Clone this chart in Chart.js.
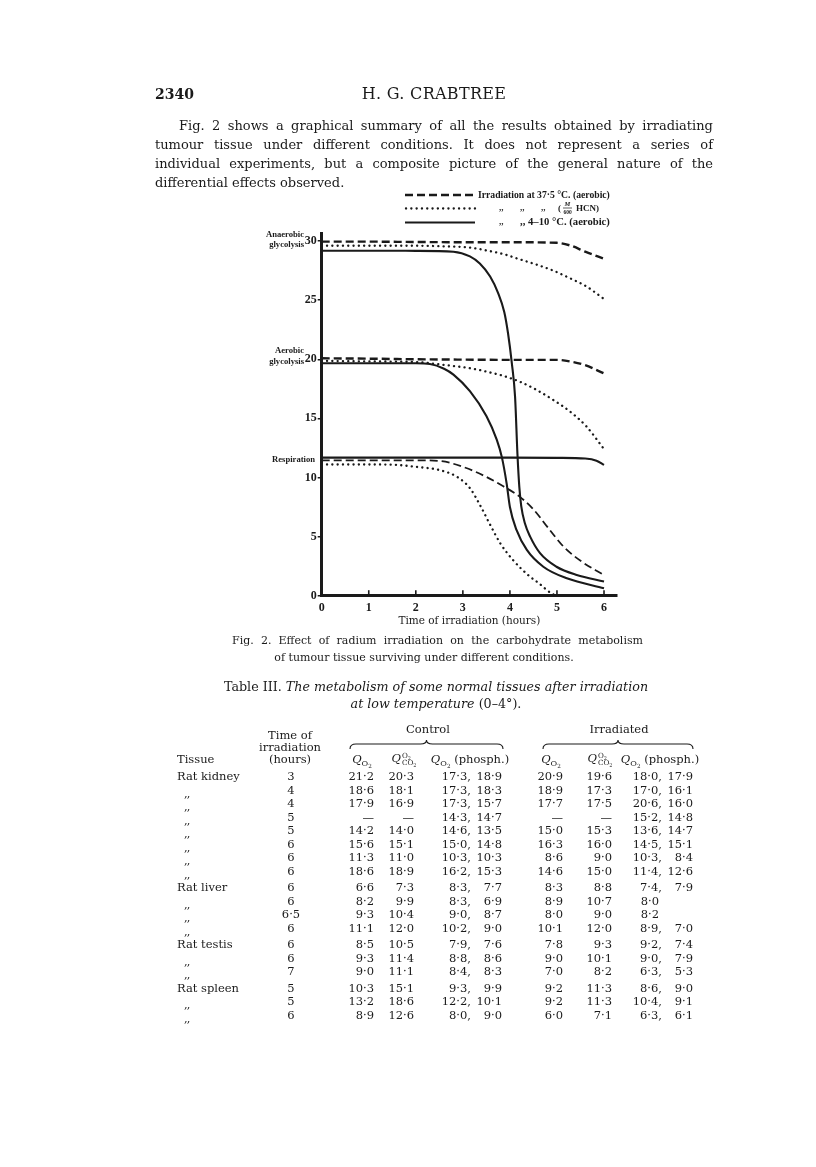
<!DOCTYPE html>
<html>
<head>
<meta charset="utf-8">
<script src="https://cdn.jsdelivr.net/npm/chart.js@4.4.1/dist/chart.umd.min.js"></script>
<style>
  html, body { margin: 0; padding: 0; background: #fff; }
  body { width: 816px; height: 1167px; position: relative; overflow: hidden; color: #1a1a1a;
         font-family: "DejaVu Serif", "Liberation Serif", serif; }
  .t { position: absolute; white-space: nowrap; line-height: 1; }
  #fig { position: absolute; left: 200px; top: 180px; }
  .tbl { font-size: 11.5px; }
  sub, sup { line-height: 0; font-size: 70%; }
  .stack { display: inline-flex; flex-direction: column; vertical-align: middle; font-size: 62%; line-height: 1.05; margin-left: 1px; }
</style>
</head>
<body>
<canvas id="fig" width="440" height="460"></canvas>
<svg id="braces" width="816" height="1167" style="position:absolute;left:0;top:0;pointer-events:none"></svg>
<script>
const INK = "#1a1a1a";

// ---------------------------------------------------------------------------
// Fig. 2 values (time in hours, metabolic quotient)
// ---------------------------------------------------------------------------
const X_TICKS = [0, 1, 2, 3, 4, 5, 6];
const Y_TICKS = [0, 5, 10, 15, 20, 25, 30];

const ANA_37_X = [0, 1, 2, 3, 4, 5, 5.3, 5.6, 6];
const ANA_37_Y = [29.95, 29.95, 29.92, 29.9, 29.9, 29.85, 29.6, 29.1, 28.5];
const ANA_HCN_X = [0, 1, 2, 2.6, 3.15, 3.51, 3.86, 4.21, 4.57, 4.92, 5.28, 5.63, 6];
const ANA_HCN_Y = [29.6, 29.6, 29.6, 29.55, 29.45, 29.2, 28.9, 28.45, 28.0, 27.5, 26.85, 26.15, 25.1];
const ANA_COLD_X = [0, 1, 2, 2.8, 3.15, 3.36, 3.58, 3.75, 3.88, 3.96, 4.04, 4.11, 4.16, 4.2, 4.24, 4.32, 4.43, 4.64, 4.99, 5.42, 6];
const ANA_COLD_Y = [29.18, 29.18, 29.17, 29.1, 28.7, 28.1, 27.0, 25.6, 24.0, 22.2, 19.7, 16.8, 12.0, 9.2, 7.6, 6.1, 5.0, 3.6, 2.45, 1.75, 1.2];

const AER_37_X = [0, 1, 2, 3, 4, 5, 5.3, 5.6, 6];
const AER_37_Y = [20.08, 20.05, 20.0, 19.97, 19.95, 19.95, 19.8, 19.5, 18.8];
const AER_HCN_X = [0, 1, 2.09, 2.44, 2.8, 3.15, 3.51, 3.86, 4.21, 4.57, 4.92, 5.28, 5.63, 6];
const AER_HCN_Y = [19.86, 19.82, 19.75, 19.6, 19.43, 19.24, 18.95, 18.59, 18.1, 17.4, 16.56, 15.57, 14.3, 12.4];
const AER_COLD_X = [0, 1, 2, 2.3, 2.6, 2.8, 3.15, 3.5, 3.72, 3.83, 3.93, 4.0, 4.14, 4.36, 4.71, 5.21, 6];
const AER_COLD_Y = [19.66, 19.66, 19.66, 19.6, 19.2, 18.7, 17.3, 15.2, 13.2, 11.7, 9.5, 7.5, 5.56, 3.87, 2.45, 1.47, 0.63];

const RESP_37_X = [0, 1, 2, 2.5, 3.0, 3.5, 3.86, 4.2, 4.5, 4.82, 5.14, 5.52, 6];
const RESP_37_Y = [11.45, 11.45, 11.45, 11.4, 10.9, 10.05, 9.25, 8.4, 7.3, 5.7, 4.15, 2.9, 1.75];
const RESP_HCN_X = [0, 1, 1.6, 2.0, 2.5, 2.87, 3.15, 3.36, 3.58, 3.8, 4.07, 4.4, 4.6, 4.88, 5.0];
const RESP_HCN_Y = [11.1, 11.1, 11.06, 10.9, 10.63, 10.07, 9.1, 7.7, 6.0, 4.4, 3.0, 1.7, 1.1, 0.2, 0];
const RESP_COLD_X = [0, 1, 2, 3, 4, 5, 5.6, 5.84, 6];
const RESP_COLD_Y = [11.68, 11.68, 11.68, 11.68, 11.68, 11.66, 11.6, 11.42, 11.06];

// ---------------------------------------------------------------------------
// Table III values
// ---------------------------------------------------------------------------
const TISSUE = ["Rat kidney", ",,", ",,", ",,", ",,", ",,", ",,", ",,",
                "Rat liver", ",,", ",,", ",,",
                "Rat testis", ",,", ",,",
                "Rat spleen", ",,", ",,"];
const GROUP = [0, 0, 0, 0, 0, 0, 0, 0, 1, 1, 1, 1, 2, 2, 2, 3, 3, 3];
const HOURS = ["3", "4", "4", "5", "5", "6", "6", "6", "6", "6", "6·5", "6", "6", "6", "7", "5", "5", "6"];
const C_QO2 = ["21·2", "18·6", "17·9", "—", "14·2", "15·6", "11·3", "18·6", "6·6", "8·2", "9·3", "11·1", "8·5", "9·3", "9·0", "10·3", "13·2", "8·9"];
const C_QCO2 = ["20·3", "18·1", "16·9", "—", "14·0", "15·1", "11·0", "18·9", "7·3", "9·9", "10·4", "12·0", "10·5", "11·4", "11·1", "15·1", "18·6", "12·6"];
const C_PHOS = ["17·3, 18·9", "17·3, 18·3", "17·3, 15·7", "14·3, 14·7", "14·6, 13·5", "15·0, 14·8", "10·3, 10·3", "16·2, 15·3",
                "8·3, 7·7", "8·3, 6·9", "9·0, 8·7", "10·2, 9·0", "7·9, 7·6", "8·8, 8·6", "8·4, 8·3", "9·3, 9·9", "12·2, 10·1", "8·0, 9·0"];
const I_QO2 = ["20·9", "18·9", "17·7", "—", "15·0", "16·3", "8·6", "14·6", "8·3", "8·9", "8·0", "10·1", "7·8", "9·0", "7·0", "9·2", "9·2", "6·0"];
const I_QCO2 = ["19·6", "17·3", "17·5", "—", "15·3", "16·0", "9·0", "15·0", "8·8", "10·7", "9·0", "12·0", "9·3", "10·1", "8·2", "11·3", "11·3", "7·1"];
const I_PHOS = ["18·0, 17·9", "17·0, 16·1", "20·6, 16·0", "15·2, 14·8", "13·6, 14·7", "14·5, 15·1", "10·3, 8·4", "11·4, 12·6",
                "7·4, 7·9", "8·0", "8·2", "8·9, 7·0", "9·2, 7·4", "9·0, 7·9", "6·3, 5·3", "8·6, 9·0", "10·4, 9·1", "6·3, 6·1"];

// ---------------------------------------------------------------------------
// page text
// ---------------------------------------------------------------------------
function place(html, x, y, opts = {}) {
  const el = document.createElement("div");
  el.className = "t" + (opts.cls ? " " + opts.cls : "");
  el.innerHTML = html;
  const tx = opts.align === "center" ? "-50%" : opts.align === "right" ? "-100%" : "0";
  el.style.left = x + "px";
  el.style.top = y + "px";
  el.style.transform = `translate(${tx}, -50%)`;
  if (opts.size) el.style.fontSize = opts.size + "px";
  if (opts.weight) el.style.fontWeight = opts.weight;
  if (opts.style) el.style.cssText += opts.style;
  document.body.appendChild(el);
  return el;
}

// one line of text stretched (or squeezed) to an exact width
function fitLine(html, x, y, width, size) {
  const el = place(html, x, y, { size });
  let w = el.getBoundingClientRect().width;
  if (w > width) {
    el.style.fontSize = (size * width / w).toFixed(2) + "px";
    w = el.getBoundingClientRect().width;
  }
  const spaces = (el.textContent.match(/ /g) || []).length;
  if (spaces && w < width) el.style.wordSpacing = ((width - w) / spaces).toFixed(2) + "px";
  return el;
}

place("2340", 155, 94, { size: 14, weight: "bold" });
place("H. G. CRABTREE", 434, 94, { size: 16, align: "center", style: "letter-spacing:0.3px" });

fitLine("Fig. 2 shows a graphical summary of all the results obtained by irradiating", 179, 125, 534, 13);
fitLine("tumour tissue under different conditions. It does not represent a series of", 155, 144, 558, 13);
fitLine("individual experiments, but a composite picture of the general nature of the", 155, 163, 558, 13);
place("differential effects observed.", 155, 182, { size: 13 });

fitLine("Fig. 2. Effect of radium irradiation on the carbohydrate metabolism", 232, 640, 411, 11);
place("of tumour tissue surviving under different conditions.", 424, 657, { size: 11, align: "center" });

place("Table III. <i>The metabolism of some normal tissues after irradiation</i>", 436, 687, { size: 12.7, align: "center" });
place("<i>at low temperature</i> (0–4°).", 436, 704, { size: 12.7, align: "center" });

// table header
const TH = 11.5;
place("Control", 428, 730, { size: TH, align: "center" });
place("Irradiated", 619, 730, { size: TH, align: "center" });
place("Time of", 290, 736, { size: TH, align: "center" });
place("irradiation", 290, 748, { size: TH, align: "center" });
place("(hours)", 290, 760, { size: TH, align: "center" });
place("Tissue", 177, 760, { size: TH });

const Q_O2 = '<i>Q</i><sub>O<sub>2</sub></sub>';
const Q_RATIO = '<i>Q</i><span class="stack"><span>O<sub>2</sub></span><span>CO<sub>2</sub></span></span>';
place(Q_O2, 362, 760, { size: TH, align: "center" });
place(Q_RATIO, 404, 759, { size: TH, align: "center" });
place(Q_O2 + " (phosph.)", 470, 760, { size: TH, align: "center" });
place(Q_O2, 551, 760, { size: TH, align: "center" });
place(Q_RATIO, 600, 759, { size: TH, align: "center" });
place(Q_O2 + " (phosph.)", 660, 760, { size: TH, align: "center" });

// curly braces over the Control / Irradiated columns
function brace(x1, x2, y) {
  const m = (x1 + x2) / 2;
  return `<path d="M${x1},${y + 5} Q${x1},${y} ${x1 + 6},${y} L${m - 6},${y} Q${m},${y} ${m},${y - 4} Q${m},${y} ${m + 6},${y} L${x2 - 6},${y} Q${x2},${y} ${x2},${y + 5}" fill="none" stroke="${INK}" stroke-width="1.1"/>`;
}
document.getElementById("braces").innerHTML = brace(350, 503, 744) + brace(543, 693, 744);

// table body
function pair(text, rightA, rightB, y) {
  const parts = text.split(", ");
  if (parts.length === 1) {
    place(parts[0], rightA - 3, y, { cls: "tbl", align: "right" });
    return;
  }
  place(parts[0] + ",", rightA, y, { cls: "tbl", align: "right" });
  place(parts[1], rightB, y, { cls: "tbl", align: "right" });
}

TISSUE.forEach((name, i) => {
  const y = 777 + i * 13.5 + GROUP[i] * 3;
  if (name === ",,") place(",,", 184, y + 3, { cls: "tbl", style: "letter-spacing:-1px" });
  else place(name, 177, y, { cls: "tbl" });
  place(HOURS[i], 291, y, { cls: "tbl", align: "center" });
  place(C_QO2[i], 374, y, { cls: "tbl", align: "right" });
  place(C_QCO2[i], 414, y, { cls: "tbl", align: "right" });
  pair(C_PHOS[i], 471, 502, y);
  place(I_QO2[i], 563, y, { cls: "tbl", align: "right" });
  place(I_QCO2[i], 612, y, { cls: "tbl", align: "right" });
  pair(I_PHOS[i], 662, 693, y);
});

// ---------------------------------------------------------------------------
// Fig. 2 chart
// ---------------------------------------------------------------------------
const LINE_STYLE = {
  warm: { borderDash: [8, 4], borderWidth: 2.4, borderCapStyle: "butt" },
  hcn:  { borderDash: [0.1, 5.2], borderWidth: 2.3, borderCapStyle: "round" },
  cold: { borderDash: [], borderWidth: 2.1, borderCapStyle: "butt" },
};

function series(label, xs, ys, kind, width) {
  const st = LINE_STYLE[kind];
  return {
    label,
    data: xs.map((x, i) => ({ x, y: ys[i] })),
    borderColor: INK,
    borderWidth: width || st.borderWidth,
    borderDash: st.borderDash,
    borderCapStyle: st.borderCapStyle,
    cubicInterpolationMode: "monotone",
    pointRadius: 0,
    fill: false,
  };
}

const datasets = [
  series("Anaerobic, 37·5 °C", ANA_37_X, ANA_37_Y, "warm"),
  series("Anaerobic, HCN", ANA_HCN_X, ANA_HCN_Y, "hcn"),
  series("Anaerobic, 4–10 °C", ANA_COLD_X, ANA_COLD_Y, "cold"),
  series("Aerobic, 37·5 °C", AER_37_X, AER_37_Y, "warm"),
  series("Aerobic, HCN", AER_HCN_X, AER_HCN_Y, "hcn"),
  series("Aerobic, 4–10 °C", AER_COLD_X, AER_COLD_Y, "cold"),
  series("Respiration, 37·5 °C", RESP_37_X, RESP_37_Y, "warm", 1.8),
  series("Respiration, HCN", RESP_HCN_X, RESP_HCN_Y, "hcn"),
  series("Respiration, 4–10 °C", RESP_COLD_X, RESP_COLD_Y, "cold"),
];

const SIDE_LABELS = [
  ["Anaerobic", 30, -6, 104],
  ["glycolysis", 30, 4, 104],
  ["Aerobic", 20, -8, 104],
  ["glycolysis", 20, 3, 104],
  ["Respiration", 11.68, 2, 115],
];

function fitFont(ctx, text, width, base, family, style) {
  ctx.font = `${style} ${base}px ${family}`;
  const w = ctx.measureText(text).width;
  const size = base * width / w;
  ctx.font = `${style} ${size.toFixed(2)}px ${family}`;
  return size;
}

function sampleLine(ctx, ds, x0, x1, y) {
  ctx.save();
  ctx.strokeStyle = INK;
  ctx.lineWidth = ds.borderWidth;
  ctx.setLineDash(ds.borderDash);
  ctx.lineCap = ds.borderCapStyle;
  ctx.beginPath();
  ctx.moveTo(x0, y);
  ctx.lineTo(x1, y);
  ctx.stroke();
  ctx.restore();
}

const decor = {
  id: "decor",
  afterDraw(chart) {
    const { ctx, chartArea: a, scales: { x, y } } = chart;
    ctx.save();

    // inward tick marks on the time axis
    ctx.strokeStyle = INK;
    ctx.lineWidth = 1.6;
    X_TICKS.forEach((v) => {
      const px = x.getPixelForValue(v);
      ctx.beginPath();
      ctx.moveTo(px, a.bottom - 1);
      ctx.lineTo(px, a.bottom - 5.5);
      ctx.stroke();
    });

    // labels beside the y axis
    ctx.fillStyle = INK;
    ctx.textAlign = "right";
    ctx.textBaseline = "middle";
    ctx.font = 'bold 8.6px "Liberation Serif"';
    SIDE_LABELS.forEach(([txt, v, dy, right]) => {
      ctx.fillText(txt, right, y.getPixelForValue(v) + dy);
    });

    // key, top right
    const fam = '"Liberation Serif"';
    const rows = [15, 28.5, 42.5];
    sampleLine(ctx, chart.data.datasets[0], 205, 275, rows[0]);
    sampleLine(ctx, chart.data.datasets[1], 206, 275, rows[1]);
    sampleLine(ctx, chart.data.datasets[2], 205, 275, rows[2]);

    ctx.textAlign = "left";
    fitFont(ctx, "Irradiation at 37·5 °C. (aerobic)", 132, 9, fam, "bold");
    ctx.fillText("Irradiation at 37·5 °C. (aerobic)", 278, rows[0]);

    ctx.font = `bold 9px ${fam}`;
    [299, 320, 341].forEach((px) => ctx.fillText(",,", px, rows[1] - 1));
    ctx.fillText("(", 358, rows[1]);
    ctx.font = `italic bold 6.5px ${fam}`;
    ctx.textAlign = "center";
    ctx.fillText("M", 367.5, rows[1] - 4.5);
    ctx.font = `bold 5.5px ${fam}`;
    ctx.fillText("600", 367.5, rows[1] + 4);
    ctx.lineWidth = 0.7;
    ctx.beginPath();
    ctx.moveTo(363, rows[1] - 0.5);
    ctx.lineTo(372, rows[1] - 0.5);
    ctx.stroke();
    ctx.textAlign = "left";
    ctx.font = `bold 9px ${fam}`;
    ctx.fillText("HCN)", 376, rows[1]);

    ctx.fillText(",,", 299, rows[2] - 1);
    fitFont(ctx, ",, 4–10 °C. (aerobic)", 90, 9, fam, "bold");
    ctx.fillText(",, 4–10 °C. (aerobic)", 320, rows[2]);

    ctx.restore();
  },
};

new Chart(document.getElementById("fig"), {
  type: "line",
  data: { datasets },
  options: {
    responsive: false,
    animation: false,
    devicePixelRatio: 1,
    layout: { padding: { top: 53, right: 23, left: 0, bottom: 0 } },
    plugins: { legend: { display: false }, tooltip: { enabled: false } },
    scales: {
      x: {
        type: "linear",
        min: 0,
        max: 6.276,
        afterBuildTicks: (s) => { s.ticks = X_TICKS.map((v) => ({ value: v })); },
        afterFit: (s) => { s.height = 44.3; },
        grid: { drawOnChartArea: false, drawTicks: false, color: INK, lineWidth: 1.5 },
        border: { display: true, color: INK, width: 3 },
        ticks: { color: INK, padding: 5, font: { family: '"Liberation Serif"', size: 12, weight: "bold" } },
        title: {
          display: true,
          text: "Time of irradiation (hours)",
          color: INK,
          font: { family: '"DejaVu Serif"', size: 10.5 },
          padding: { top: 0, bottom: 12 },
        },
      },
      y: {
        type: "linear",
        min: 0,
        max: 30.68,
        afterBuildTicks: (s) => { s.ticks = Y_TICKS.map((v) => ({ value: v })); },
        afterFit: (s) => { s.width = 121.7; },
        grid: { drawOnChartArea: false, drawTicks: true, tickLength: 4, color: INK, lineWidth: 1.5 },
        border: { display: true, color: INK, width: 3 },
        ticks: { color: INK, padding: 1, font: { family: '"Liberation Serif"', size: 12, weight: "bold" } },
      },
    },
  },
  plugins: [decor],
});
</script>
</body>
</html>
